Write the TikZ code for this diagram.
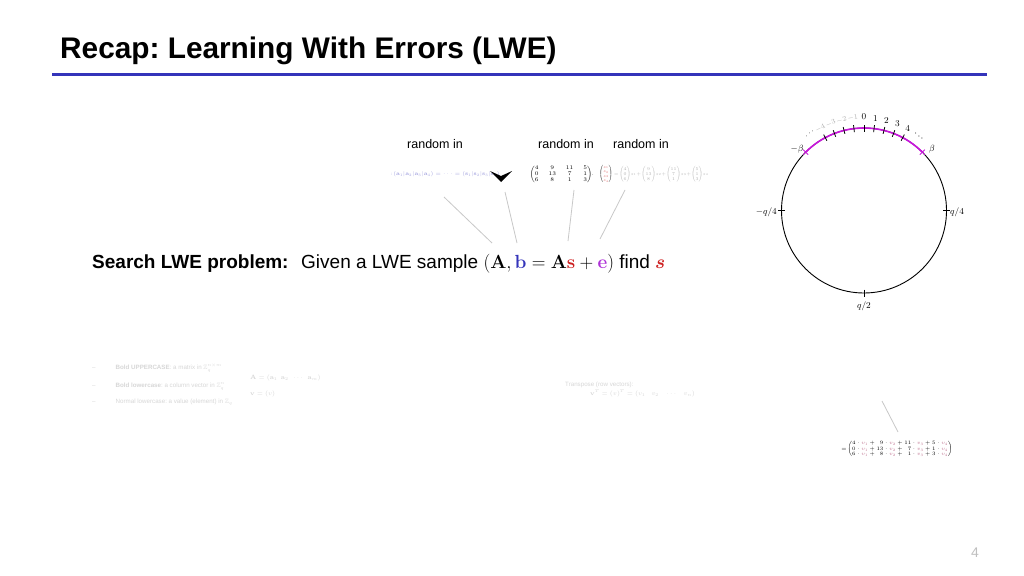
\RequirePackage{fix-cm}
\documentclass[tikz,border=0pt]{standalone}
\usepackage{amsmath}
\usepackage{amssymb}
\usepackage[no-math]{fontspec}
\setmainfont{Liberation Sans}
\usetikzlibrary{calc}
\frenchspacing
\definecolor{lweblue}{RGB}{52,52,186}
\definecolor{lwered}{RGB}{205,30,30}
\definecolor{lwepurple}{RGB}{175,50,215}
\definecolor{lwemag}{RGB}{200,20,220}
\definecolor{lwegray}{RGB}{200,200,200}
\definecolor{faint}{RGB}{215,215,215}
\definecolor{vpink}{RGB}{190,110,140}
\tikzset{
  lbl/.style={font=\fontsize{12.5}{14}\selectfont, inner sep=0pt, anchor=base},
  conn/.style={draw=lwegray, line width=0.8pt},
  ring/.style={draw=black, line width=0.9pt},
  tick/.style={draw=black, line width=0.8pt},
  clab/.style={font=\fontsize{9}{10}\selectfont, inner sep=0pt},
  nlab/.style={font=\fontsize{7}{8}\selectfont, inner sep=0pt, text=gray!65},
  fainttxt/.style={font=\fontsize{6.2}{7}\selectfont, text=faint, inner sep=0pt, anchor=base west},
}
\begin{document}
\begin{tikzpicture}[x=1pt,y=-1pt]
\useasboundingbox[fill=white] (0,0) rectangle (1024,575);

% title
\node[anchor=base west, inner sep=0pt, font=\fontsize{29.8}{36}\selectfont\bfseries] (title) at (60,59) {Recap: Learning With Errors (LWE)};
\draw[lweblue, line width=3pt] (52,75) coordinate (rl) -- (987,75) coordinate (rr);

% random in labels
\node[lbl] (r1) at (435,148) {random in};
\node[lbl] (r2) at (566,148) {random in};
\node[lbl] (r3) at (641,148) {random in};

% small pictures row
\node[inner sep=0pt, font=\fontsize{5.2}{6}\selectfont, text=lweblue!45] (colsA) at (445,174) {$:\!(\mathbf{a}_1|\mathbf{a}_2|\mathbf{a}_3|\mathbf{a}_4)=\cdots=(\mathbf{s}_1|\mathbf{s}_2|\mathbf{s}_3|\mathbf{s}_4)$};
\fill[black] (490,171) -- (501,176) -- (512,171) -- (508,175) -- (501,182) -- (494,175) -- cycle;
\node[inner sep=0pt, font=\fontsize{5.5}{6}\selectfont] (matA) at (561,174) {$\begin{pmatrix}4&9&11&5\\0&13&7&1\\6&8&1&3\end{pmatrix}$};
\node[inner sep=0pt, font=\fontsize{5.5}{6}\selectfont] (dot) at (593,175) {$\cdot$};
\node[inner sep=0pt, font=\fontsize{4}{4.5}\selectfont] (vecs) at (606,174) {$\begin{pmatrix}\color{lwered!70}s_1\\ \color{lwered!70}s_2\\ \color{lwered!70}s_3\\ \color{lwered!70}s_4\end{pmatrix}$};
\node[inner sep=0pt, font=\fontsize{4.3}{5}\selectfont, text=gray!60, anchor=west] (cols) at (614,174) {$=\!\begin{pmatrix}4\\0\\6\end{pmatrix}\!s_1\!+\!\begin{pmatrix}9\\13\\8\end{pmatrix}\!s_2\!+\!\begin{pmatrix}11\\7\\1\end{pmatrix}\!s_3\!+\!\begin{pmatrix}5\\1\\3\end{pmatrix}\!s_4$};

% main sentence
\node[anchor=base west, inner sep=0pt, font=\fontsize{19}{22}\selectfont\bfseries] (search) at (92,268) {Search LWE problem:};
\node[anchor=base west, inner sep=0pt, font=\fontsize{19}{22}\selectfont] (given) at (301,268) {Given a LWE sample $(\mathbf{A},\textcolor{lweblue}{\mathbf{b}}=\mathbf{A}\textcolor{lwered}{\mathbf{s}}+\textcolor{lwepurple}{\mathbf{e}})$ find $\textcolor{lwered}{\boldsymbol{s}}$};

% connector targets
\coordinate (tA) at (492,243);
\coordinate (tb) at (517,243);
\coordinate (ts) at (568,241);
\coordinate (te) at (600,239);
\coordinate (sA) at (444,197);
\coordinate (sb) at (505,192);
\coordinate (ss) at (574,190);
\coordinate (se) at (625,190);
\draw[conn] (sA) -- (tA);
\draw[conn] (sb) -- (tb);
\draw[conn] (ss) -- (ts);
\draw[conn] (se) -- (te);

% faint lines of notation
\node[fainttxt] (f1) at (92,369) {--\hspace{20pt}\textbf{Bold UPPERCASE}: a matrix in $\mathbb{Z}_q^{n\times m}$};
\node[fainttxt] (f2) at (250,379) {$\mathbf{A}=(\mathbf{a}_1\ \ \mathbf{a}_2\ \ \cdots\ \ \mathbf{a}_m)$};
\node[fainttxt] (f3) at (92,387) {--\hspace{20pt}\textbf{Bold lowercase}: a column vector in $\mathbb{Z}_q^{n}$};
\node[fainttxt] (f4) at (250,395) {$\mathbf{v}=(v)$};
\node[fainttxt] (f5) at (92,403) {--\hspace{20pt}Normal lowercase: a value (element) in $\mathbb{Z}_q$};
\node[fainttxt] (f6) at (565,386) {Transpose (row vectors):};
\node[fainttxt] (f7) at (590,395) {$\mathbf{v}^T=(v)^T=(v_1\quad v_2\quad\cdots\quad v_n)$};

% circle
\coordinate (C) at (864,210.5);
\draw[ring] (C) circle[radius=82.5pt];
\draw[lwemag, line width=1.6pt] ($(C)+(45:82.5pt)$) arc[start angle=45, end angle=135, radius=82.5pt];
\foreach \a in {62,69,76,83,90,97,104,111,118,0,180,270}{
  \draw[tick] ($(C)+(\a:79pt)$) -- ($(C)+(\a:86pt)$);
}
\foreach \a in {45,135}{
  \draw[lwemag, line width=0.9pt] ($(C)+(\a:82.5pt)+(-2.5pt,-2.5pt)$) -- ++(5pt,5pt);
  \draw[lwemag, line width=0.9pt] ($(C)+(\a:82.5pt)+(-2.5pt,2.5pt)$) -- ++(5pt,-5pt);
}
\node[clab] (l0) at ($(C)+(90:94pt)$) {$0$};
\node[clab] (l1) at ($(C)+(83:93pt)$) {$1$};
\node[clab] (l2) at ($(C)+(76:93pt)$) {$2$};
\node[clab] (l3) at ($(C)+(69:93pt)$) {$3$};
\node[clab] (l4) at ($(C)+(62:93pt)$) {$4$};
\node[clab, rotate=-38] (ldr) at ($(C)+(53:92pt)$) {$\cdots$};
\node[nlab, rotate=7] (m1) at ($(C)+(97:93pt)$) {$-1$};
\node[nlab, rotate=14] (m2) at ($(C)+(104:93pt)$) {$-2$};
\node[nlab, rotate=21] (m3) at ($(C)+(111:93pt)$) {$-3$};
\node[nlab, rotate=28] (m4) at ($(C)+(118:93pt)$) {$-4$};
\node[nlab, text=black, rotate=36] (ldl) at ($(C)+(125:94pt)$) {$\cdots$};
\node[clab] (lmb) at (797,149) {$-\beta$};
\node[clab] (lb) at (932,149) {$\beta$};
\node[clab, anchor=east] (lmq) at (777,212) {$-q/4$};
\node[clab, anchor=west] (lq) at (950,212) {$q/4$};
\node[clab] (lq2) at (864,306) {$q/2$};

% bottom-right expression
\coordinate (sx) at (882,401);
\coordinate (tx) at (898,432);
\draw[conn] (sx) -- (tx);
\node[inner sep=0pt, font=\fontsize{5.1}{5.6}\selectfont] (expr) at (897,449) {$=\!\begin{pmatrix}4\cdot\textcolor{vpink}{v_1}+\phantom{1}9\cdot\textcolor{vpink}{v_2}+11\cdot\textcolor{vpink}{v_3}+5\cdot\textcolor{vpink}{v_4}\\0\cdot\textcolor{vpink}{v_1}+13\cdot\textcolor{vpink}{v_2}+\phantom{1}7\cdot\textcolor{vpink}{v_3}+1\cdot\textcolor{vpink}{v_4}\\6\cdot\textcolor{vpink}{v_1}+\phantom{1}8\cdot\textcolor{vpink}{v_2}+\phantom{1}1\cdot\textcolor{vpink}{v_3}+3\cdot\textcolor{vpink}{v_4}\end{pmatrix}$};

% page number
\node[anchor=base, inner sep=0pt, font=\fontsize{14}{16}\selectfont, text=gray!50] (pg) at (975,557) {4};
\end{tikzpicture}
\end{document}
